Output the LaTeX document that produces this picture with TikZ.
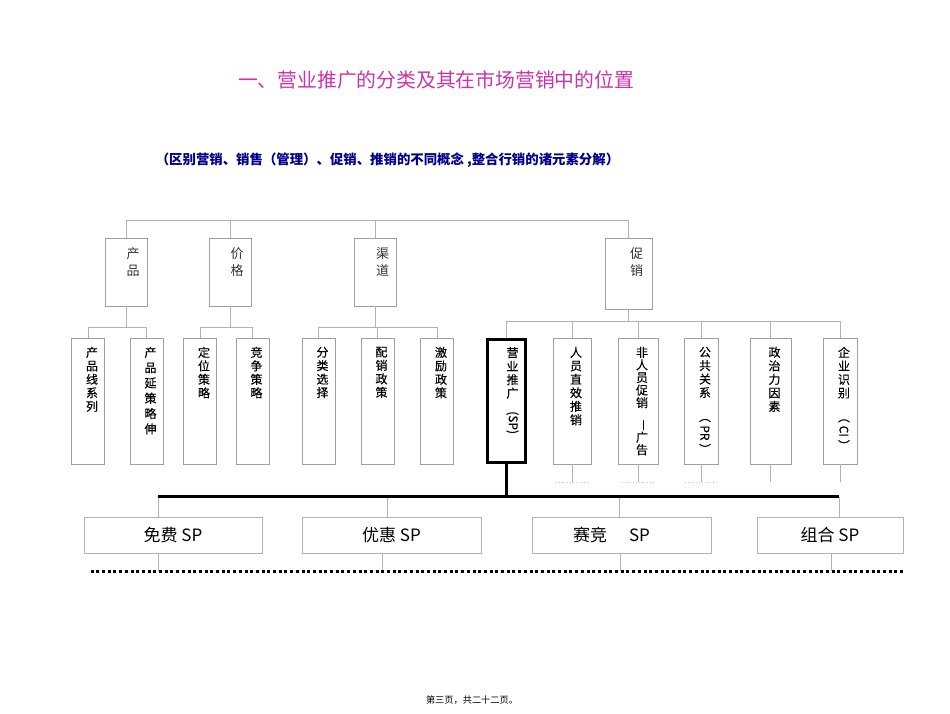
\documentclass[tikz,border=0pt]{standalone}
\usepackage{fontspec}
\usepackage{graphicx}
\newfontfamily\cjk{Noto Sans CJK SC}
\newfontfamily\cjkdark[FakeBold=0.3]{Noto Sans CJK SC}
\definecolor{titlepink}{RGB}{204,51,170}
\definecolor{subblue}{RGB}{0,0,140}

\begin{document}
\begin{tikzpicture}[x=1pt,y=-1pt,
  link/.style={draw=gray!60,line width=0.8pt},
  bus/.style={line width=2.6pt,black},
  mix/.style={draw=gray!75,line width=0.8pt,minimum width=42pt,minimum height=68pt,inner sep=0pt},
  leaf/.style={draw=gray!75,line width=0.8pt,minimum width=33pt,minimum height=126pt,inner sep=0pt},
  kind/.style={draw=gray!60,line width=0.8pt,minimum height=36pt,inner sep=0pt,font=\cjk\fontsize{17}{20}\selectfont},
  tlab/.style={anchor=north,align=center,inner sep=0pt,xshift=7pt,yshift=-10pt,font=\cjk\fontsize{13}{17}\selectfont,text=black!80},
  vlab/.style={anchor=north,align=center,inner sep=0pt,xshift=4pt,yshift=-9pt,font=\cjkdark\fontsize{12}{13.5}\selectfont}]
\useasboundingbox (0,0) rectangle (950,713);
%titles
\node[font=\cjk\fontsize{19.8}{22}\selectfont,text=titlepink] (title) at (436,80) {一、营业推广的分类及其在市场营销中的位置};
\node[font=\cjk\bfseries\fontsize{13.4}{16}\selectfont,text=subblue] (sub) at (387.5,160) {（区别营销、销售（管理）、促销、推销的不同概念 ,整合行销的诸元素分解）};
\node[font=\cjk\fontsize{9.2}{11}\selectfont] (page) at (472,700) {第三页，共二十二页。};
%4P
\node[mix,label={[tlab]north:产\\品}] (cp) at (126,272) {};
\node[mix,label={[tlab]north:价\\格}] (jg) at (230,272) {};
\node[mix,label={[tlab]north:渠\\道}] (qd) at (375.5,272) {};
\node[mix,minimum width=47pt,minimum height=71pt,label={[tlab,xshift=1pt]north:促\\销}] (cx) at (628.5,273.5) {};
\coordinate (bus1) at (0,220);
\draw[link] (cp.north) |- (cx.north |- bus1) -- (cx.north);
\draw[link] (jg.north) -- (jg.north |- bus1);
\draw[link] (qd.north) -- (qd.north |- bus1);
%second row
\node[leaf,label={[vlab]north:产\\品\\线\\系\\列}] (cpx) at (88,401) {};
\node[leaf,label={[vlab,font=\cjkdark\fontsize{12}{15.3}\selectfont]north:产\\品\\延\\策\\略\\伸}] (cpy) at (146.5,401) {};
\node[leaf,label={[vlab]north:定\\位\\策\\略}] (dw) at (200,401) {};
\node[leaf,label={[vlab]north:竞\\争\\策\\略}] (jz) at (252.5,401) {};
\node[leaf,label={[vlab]north:分\\类\\选\\择}] (fl) at (318.5,401) {};
\node[leaf,label={[vlab]north:配\\销\\政\\策}] (px) at (377.5,401) {};
\node[leaf,label={[vlab]north:激\\励\\政\\策}] (jl) at (437,401) {};
\node[leaf,draw=black,line width=2.6pt,minimum width=38.5pt,minimum height=123.5pt,
  label={[vlab,xshift=2pt]north:营\\业\\推\\广\\\rotatebox{-90}{(SP)}}] (yy) at (506.5,401) {};
\node[leaf,minimum width=38pt,label={[vlab]north:人\\员\\直\\效\\推\\销}] (ry) at (572,401) {};
\node[leaf,minimum width=40pt,label={[vlab,font=\cjkdark\fontsize{12}{12.6}\selectfont]north:非\\人\\员\\促\\销\\\rotatebox{-90}{—}\\广\\告}] (fr) at (638,401) {};
\node[leaf,minimum width=34pt,label={[vlab]north:公\\共\\关\\系\\\rotatebox{-90}{（ PR ）}}] (gg) at (701,401) {};
\node[leaf,minimum width=41pt,label={[vlab]north:政\\治\\力\\因\\素}] (zz) at (770.5,401) {};
\node[leaf,minimum width=34pt,label={[vlab]north:企\\业\\识\\别\\\rotatebox{-90}{（ CI ）}}] (qy) at (840,401) {};
\coordinate (bus2) at (0,327);
\coordinate (bus3) at (0,321);
\draw[link] (cp.south) -- (cp.south |- bus2);
\draw[link] (cpx.north) |- (cpy.north |- bus2) -- (cpy.north);
\draw[link] (jg.south) -- (jg.south |- bus2);
\draw[link] (dw.north) |- (jz.north |- bus2) -- (jz.north);
\draw[link] (qd.south) -- (qd.south |- bus2);
\draw[link] (fl.north) |- (jl.north |- bus2) -- (jl.north);
\draw[link] (px.north) -- (px.north |- bus2);
\draw[link] (cx.south) -- (cx.south |- bus3);
\draw[link] (yy.north) |- (qy.north |- bus3) -- (qy.north);
\foreach \n in {ry,fr,gg,zz}
  \draw[link] (\n.north) -- (\n.north |- bus3);
\foreach \n in {ry,fr,gg,zz,qy}
  \draw[link] (\n.south) -- ++(0,18);
\foreach \n in {ry,fr,gg}
  \draw[draw=gray!40,line width=0.8pt,dotted] ([xshift=-16pt,yshift=-18pt]\n.south) -- ++(32,0);
%SP kinds
\node[kind,minimum width=178pt] (mf) at (173,535) {免费 SP};
\node[kind,minimum width=179pt] (yh) at (391.5,535) {优惠 SP};
\node[kind,minimum width=179pt] (sj) at (621.5,535) {\hspace{-20pt}赛竞\hspace{1.3em}SP};
\node[kind,minimum width=146pt] (zh) at (830,535) {组合 SP};
\coordinate (busL) at ([xshift=-15pt,yshift=20pt]mf.north);
\coordinate (busR) at ([xshift=9pt,yshift=20pt]zh.north);
\draw[link] (busL) -- (busL |- mf.north);
\draw[link] (busR) -- (busR |- zh.north);
\draw[link] ([xshift=-4.5pt,yshift=20pt]yh.north) -- ([xshift=-4.5pt]yh.north);
\draw[link] ([xshift=-2.5pt,yshift=20pt]sj.north) -- ([xshift=-2.5pt]sj.north);
\draw[bus] (yy.south) -- (yy.south |- busL);
\draw[bus] (busL) -- (busR);
\draw[link] ([xshift=-15pt]mf.south) -- ++(0,18);
\draw[link] ([xshift=-9.5pt]yh.south) -- ++(0,18);
\draw[link] ([xshift=-1.5pt]sj.south) -- ++(0,18);
\draw[link] ([xshift=1pt]zh.south) -- ++(0,18);
\coordinate (dl) at ([xshift=7pt,yshift=-18pt]mf.south west);
\coordinate (dr) at ([xshift=2pt,yshift=-18pt]zh.south east);
\draw[line width=3pt,dash pattern=on 3pt off 2.7pt] (dl) -- (dr);
\end{tikzpicture}
\end{document}
